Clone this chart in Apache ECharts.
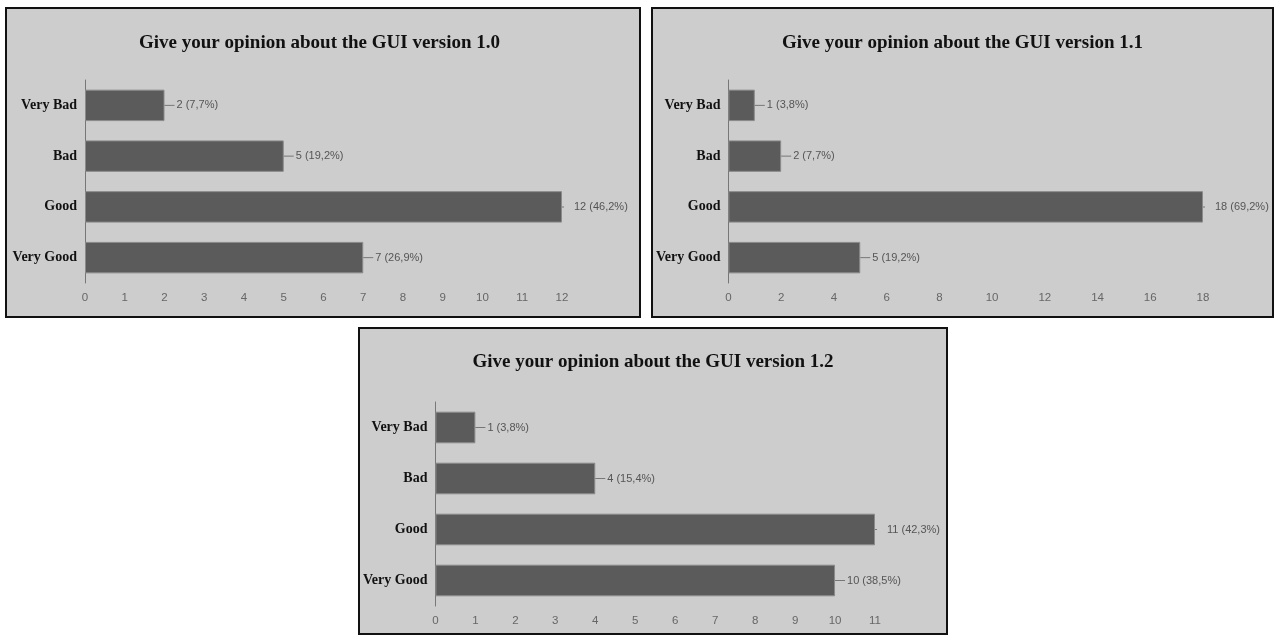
<!DOCTYPE html>
<html>
<head>
<meta charset="utf-8">
<script src="https://cdn.jsdelivr.net/npm/echarts@6/dist/echarts.min.js"></script>
<style>
  html, body { margin: 0; padding: 0; background: #fff; }
  .panel { position: absolute; box-sizing: border-box; border: 2px solid #111; background: #cdcdcd; }
</style>
</head>
<body>
<div id="p10" class="panel" style="left:5px;top:7px;width:636px;height:311px"></div>
<div id="p11" class="panel" style="left:651px;top:7px;width:623px;height:311px"></div>
<div id="p12" class="panel" style="left:358px;top:327px;width:590px;height:308px"></div>
<script>
// categories, top to bottom
var categories = ['Very Bad', 'Bad', 'Good', 'Very Good'];

// GUI version 1.0
var title10 = 'Give your opinion about the GUI version 1.0';
var values10 = [2, 5, 12, 7];
var percent10 = ['7,7%', '19,2%', '46,2%', '26,9%'];

// GUI version 1.1
var title11 = 'Give your opinion about the GUI version 1.1';
var values11 = [1, 2, 18, 5];
var percent11 = ['3,8%', '7,7%', '69,2%', '19,2%'];

// GUI version 1.2
var title12 = 'Give your opinion about the GUI version 1.2';
var values12 = [1, 4, 11, 10];
var percent12 = ['3,8%', '15,4%', '42,3%', '38,5%'];

var labelFont = '"Liberation Sans Narrow", "Liberation Sans", Arial, sans-serif';
var serifFont = '"Liberation Serif", "DejaVu Serif", serif';

function initChart(id, title, values, percent, axisMax, interval, grid) {
  var chart = echarts.init(document.getElementById(id), null, { renderer: 'canvas' });
  var maxVal = Math.max.apply(null, values);
  var option = {
    animation: false,
    title: {
      text: title,
      left: grid.titleLeft,
      top: grid.titleTop,
      textStyle: { fontFamily: serifFont, fontWeight: 'bold', fontSize: 19, color: '#111' }
    },
    grid: { left: grid.left, top: grid.top, width: grid.width, height: grid.height },
    xAxis: {
      type: 'value',
      min: 0,
      max: axisMax,
      interval: interval,
      axisLine: { show: false },
      axisTick: { show: false },
      splitLine: { show: false },
      axisLabel: { color: '#666', fontFamily: labelFont, fontSize: 11.5, margin: 9 }
    },
    yAxis: {
      type: 'category',
      data: categories,
      inverse: true,
      axisLine: { show: true, lineStyle: { color: '#777', width: 1 } },
      axisTick: { show: false },
      axisLabel: { color: '#111', fontFamily: serifFont, fontWeight: 'bold', fontSize: 14, margin: 8 }
    },
    series: [{
      type: 'bar',
      data: values,
      barWidth: '62%',
      itemStyle: { color: '#5b5b5b', borderColor: '#8a8a8a', borderWidth: 1 },
      label: {
        show: true,
        position: 'right',
        distance: 0,
        formatter: function (p) {
          var txt = '{t|' + p.value + ' (' + percent[p.dataIndex] + ')}';
          if (p.value === maxVal) return '{tick|}{gap|}' + txt;
          return '{stem|}' + txt;
        },
        rich: {
          stem: { width: 10, height: 1, backgroundColor: '#777' },
          tick: { width: 2, height: 1, backgroundColor: '#777' },
          gap: { width: 8, height: 1 },
          t: { color: '#555', fontFamily: labelFont, fontSize: 11, padding: [0, 0, 0, 2] }
        }
      }
    }]
  };
  chart.setOption(option);
  return chart;
}

initChart('p10', title10, values10, percent10, 12, 1, { titleLeft: 127, titleTop: 20, left: 78, top: 71, width: 477, height: 203 });
initChart('p11', title11, values11, percent11, 18, 2, { titleLeft: 'center', titleTop: 20, left: 74, top: 71, width: 476, height: 203 });
initChart('p12', title12, values12, percent12, 11, 1, { titleLeft: 'center', titleTop: 19, left: 72, top: 73, width: 443, height: 204 });
</script>
</body>
</html>
